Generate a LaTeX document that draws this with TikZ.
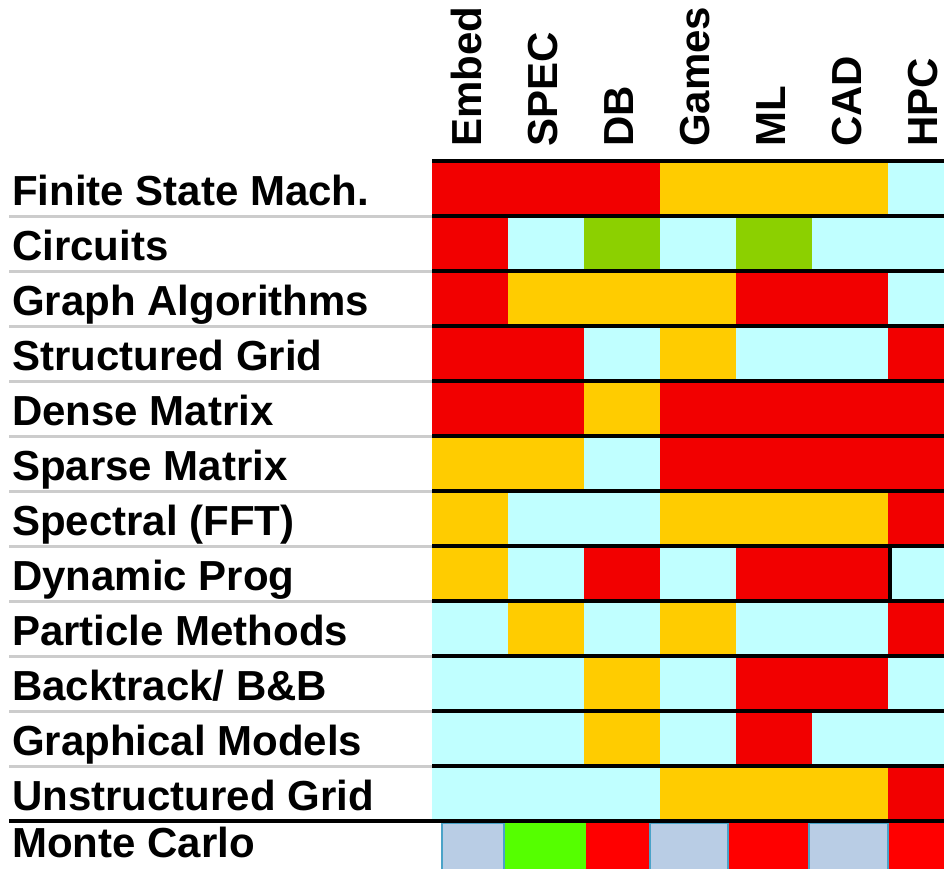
\documentclass[tikz,border=0pt]{standalone}
\usepackage{fontspec}
\setmainfont{Liberation Sans}
\definecolor{R}{HTML}{F20000}
\definecolor{O}{HTML}{FFCC00}
\definecolor{C}{HTML}{C0FFFF}
\definecolor{G}{HTML}{8CD000}
\definecolor{mcR}{HTML}{FF0000}
\definecolor{mcG}{HTML}{55FF00}
\definecolor{mcB}{HTML}{B9CDE5}
\definecolor{mcL}{HTML}{4AA3C8}
\definecolor{sep}{HTML}{CCCCCC}
\newcommand\mkrow[8]{%
  \fill[#2] (432,#1) rectangle +(76,55);
  \fill[#3] (508,#1) rectangle +(76,55);
  \fill[#4] (584,#1) rectangle +(76,55);
  \fill[#5] (660,#1) rectangle +(76,55);
  \fill[#6] (736,#1) rectangle +(76,55);
  \fill[#7] (812,#1) rectangle +(76,55);
  \fill[#8] (888,#1) rectangle +(76,55);
}
\begin{document}
\begin{tikzpicture}[x=1pt,y=-1pt,
  lab/.style={font=\fontsize{42}{48}\selectfont\bfseries, inner sep=0pt, anchor=base west},
  hdr/.style={lab, rotate=90},
  mcbox/.style={fill=mcB, draw=mcL, line width=2.5pt},
  grayline/.style={draw=sep, line width=3pt},
  blackline/.style={draw=black, line width=3.5pt}]
\useasboundingbox (0,0) rectangle (944,868);
\clip (0,0) rectangle (944,868);
% cells
\mkrow{161}{R}{R}{R}{O}{O}{O}{C}
\mkrow{216}{R}{C}{G}{C}{G}{C}{C}
\mkrow{271}{R}{O}{O}{O}{R}{R}{C}
\mkrow{326}{R}{R}{C}{O}{C}{C}{R}
\mkrow{381}{R}{R}{O}{R}{R}{R}{R}
\mkrow{436}{O}{O}{C}{R}{R}{R}{R}
\mkrow{491}{O}{C}{C}{O}{O}{O}{R}
\mkrow{546}{O}{C}{R}{C}{R}{R}{C}
\mkrow{601}{C}{O}{C}{O}{C}{C}{R}
\mkrow{656}{C}{C}{O}{C}{R}{R}{C}
\mkrow{711}{C}{C}{O}{C}{R}{C}{C}
\mkrow{766}{C}{C}{C}{O}{O}{O}{R}
% Monte Carlo row
\fill[mcG] (505,822) rectangle (586,880);
\fill[mcR] (586,822) rectangle (649,880);
\fill[mcR] (729,822) rectangle (808,880);
\fill[mcR] (889,822) rectangle (960,880);
\filldraw[mcbox] (442.2,823.2) rectangle (503.8,880);
\filldraw[mcbox] (650.2,823.2) rectangle (727.8,880);
\filldraw[mcbox] (809.2,823.2) rectangle (887.8,880);
% separator lines
\draw[blackline] (432,161) -- (944,161);
\foreach \i in {1,...,11} {
  \draw[grayline] (9,161+55*\i) -- (432,161+55*\i);
  \draw[blackline] (432,161+55*\i) -- (944,161+55*\i);
}
\draw[blackline] (9,821) -- (944,821);
\draw[line width=3.5pt] (890,546) -- (890,601);
% column headers
\node[hdr] (hEmbed) at (481,147) {Embed};
\node[hdr] (hSPEC)  at (557,147) {SPEC};
\node[hdr] (hDB)    at (633,147) {DB};
\node[hdr] (hGames) at (709,147) {Games};
\node[hdr] (hML)    at (785,147) {ML};
\node[hdr] (hCAD)   at (861,147) {CAD};
\node[hdr] (hHPC)   at (937,147) {HPC};
% row labels
\node[lab] (r1)  at (12,205) {Finite State Mach.};
\node[lab] (r2)  at (12,260) {Circuits};
\node[lab] (r3)  at (12,315) {Graph Algorithms};
\node[lab] (r4)  at (12,370) {Structured Grid};
\node[lab] (r5)  at (12,425) {Dense Matrix};
\node[lab] (r6)  at (12,480) {Sparse Matrix};
\node[lab] (r7)  at (12,535) {Spectral (FFT)};
\node[lab] (r8)  at (12,590) {Dynamic Prog};
\node[lab] (r9)  at (12,645) {Particle Methods};
\node[lab] (r10) at (12,700) {Backtrack/ B\&B};
\node[lab] (r11) at (12,755) {Graphical Models};
\node[lab] (r12) at (12,810) {Unstructured Grid};
\node[lab] (r13) at (12,857) {Monte Carlo};
\end{tikzpicture}
\end{document}
